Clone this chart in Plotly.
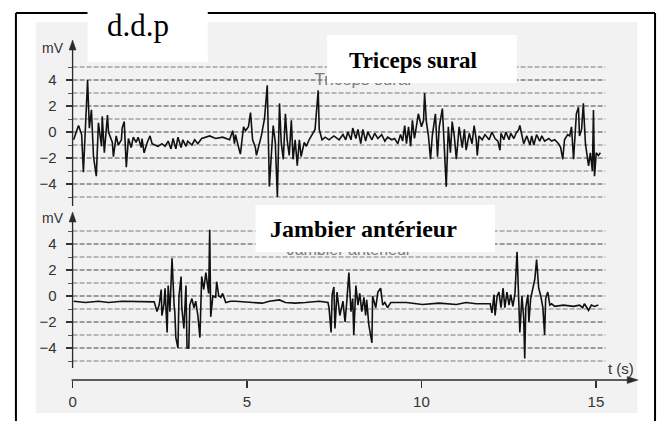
import plotly.graph_objects as go

# ---------------- data ----------------
# Triceps sural EMG trace: time (s), potential (mV)
tri_t = [0.03, 0.17, 0.26, 0.31, 0.43, 0.48, 0.54, 0.60, 0.68, 0.74, 0.83, 0.85, 0.91, 1.00, 1.03,
         1.14, 1.17, 1.25, 1.31, 1.40, 1.42, 1.48, 1.54, 1.60, 1.68, 1.74, 1.82, 1.88, 1.97, 1.99,
         2.05, 2.14, 2.22, 2.28, 2.36, 2.45, 2.56, 2.65, 2.74, 2.82, 2.88, 2.96, 3.02, 3.11, 3.16,
         3.25, 3.30, 3.42, 3.50, 3.59, 3.70, 3.93, 4.10, 4.30, 4.50, 4.59, 4.64, 4.67, 4.76, 4.81,
         4.90, 4.96, 5.04, 5.10, 5.16, 5.24, 5.27, 5.36, 5.41, 5.50, 5.58, 5.64, 5.70, 5.75, 5.81,
         5.87, 5.93, 5.98, 6.04, 6.10, 6.15, 6.21, 6.27, 6.32, 6.38, 6.44, 6.50, 6.55, 6.64, 6.70,
         6.78, 6.87, 6.95, 7.04, 7.07, 7.15, 7.24, 7.35, 7.49, 7.64, 7.75, 7.83, 7.89, 7.98, 8.03,
         8.12, 8.18, 8.26, 8.32, 8.40, 8.46, 8.58, 8.66, 8.75, 8.86, 8.95, 9.03, 9.15, 9.23, 9.32,
         9.40, 9.46, 9.52, 9.57, 9.63, 9.69, 9.74, 9.80, 9.86, 9.91, 10.00, 10.06, 10.09, 10.14, 10.20,
         10.26, 10.31, 10.40, 10.46, 10.51, 10.60, 10.66, 10.71, 10.77, 10.83, 10.88, 10.94, 11.00, 11.08, 11.17,
         11.23, 11.28, 11.37, 11.45, 11.51, 11.57, 11.60, 11.65, 11.74, 11.82, 11.94, 12.02, 12.11, 12.19, 12.25,
         12.28, 12.36, 12.42, 12.51, 12.56, 12.65, 12.71, 12.79, 12.82, 12.88, 12.93, 13.02, 13.11, 13.16, 13.22,
         13.30, 13.39, 13.45, 13.53, 13.65, 13.73, 13.82, 13.93, 13.99, 14.05, 14.10, 14.19, 14.25, 14.30, 14.36,
         14.42, 14.44, 14.50, 14.53, 14.59, 14.64, 14.70, 14.79, 14.84, 14.90, 14.93, 14.96, 15.01, 15.07, 15.13]
tri_mv = [-0.6, 0.5, -0.2, -3.1, 4.0, 0.3, 1.7, -1.9, -3.4, 0.7, -1.1, 1.2, -1.6, 1.3, 0.0,
          -0.8, -1.9, -0.3, -1.0, -0.6, 0.3, 0.8, -2.7, -0.5, -1.2, -0.4, -0.8, -0.4, -1.2, -0.5,
          -1.6, -0.8, -0.3, -0.9, -1.0, -1.1, -0.9, -1.1, -0.7, -1.3, -0.5, -1.3, -0.4, -1.2, -0.6,
          -1.1, -0.7, -1.0, -0.6, -0.9, -0.5, -0.3, -0.5, -0.4, -0.6, 0.1, -0.9, -0.2, -1.2, -1.7,
          0.4, 0.1, 0.4, 1.5, -0.6, -1.2, -1.8, -0.8, -0.3, 1.0, 3.6, -4.2, -1.1, 0.5, -0.8,
          -5.0, 2.2, -0.8, -2.1, 1.4, -0.6, -1.8, 0.9, -2.1, -0.6, -2.6, -0.6, -1.9, -0.8, -1.1,
          -0.6, -0.2, 0.2, 3.2, 0.2, -0.6, -0.4, -0.6, -0.3, -0.6, -0.2, -0.6, 0.0, -0.6, 0.3,
          -0.5, 0.2, -0.9, 0.2, -0.7, 0.0, -0.6, -0.1, -0.5, -0.2, -0.7, -0.4, -0.6, -0.5, -0.9,
          -0.2, -0.7, 0.5, -0.9, 0.4, -1.1, 0.9, -0.5, 0.7, 1.4, 0.4, 0.9, 3.0, 0.8, -0.3,
          -2.1, -0.3, 1.4, -1.9, 0.4, 1.8, -2.1, -4.2, 0.4, -1.6, 0.8, -0.3, -2.1, 0.4, -1.2,
          0.2, -1.4, -0.1, -0.9, 0.5, -0.6, -1.8, -0.3, -0.6, -0.2, -0.6, 0.0, -0.5, -0.7, -1.4,
          -0.1, -0.6, 0.0, -0.6, -0.1, -0.5, -0.1, 0.2, 0.5, -0.3, -0.9, -0.3, -1.0, -0.3, -1.0,
          -0.2, -0.7, -0.3, -0.7, -0.5, -0.7, -0.6, -0.9, -1.2, -2.1, -0.6, -0.2, -0.3, 0.4, -2.1,
          0.9, 1.4, 1.9, -0.3, 0.2, 2.2, -0.9, -2.6, -1.6, -3.0, 1.7, -3.4, -1.6, -1.8, -1.6]

# Jambier antérieur EMG trace: time (s), potential (mV)
jam_t = [0.03, 0.37, 0.74, 1.03, 1.42, 1.71, 2.08, 2.34, 2.42, 2.48, 2.54, 2.56, 2.62, 2.65, 2.71,
         2.74, 2.79, 2.85, 2.91, 2.93, 2.96, 3.02, 3.05, 3.11, 3.13, 3.19, 3.25, 3.28, 3.33, 3.36,
         3.42, 3.48, 3.53, 3.59, 3.65, 3.70, 3.76, 3.82, 3.90, 3.93, 3.96, 4.02, 4.10, 4.13, 4.19,
         4.25, 4.30, 4.39, 4.53, 4.67, 5.16, 5.44, 5.64, 5.93, 6.10, 6.38, 6.67, 7.07, 7.32,
         7.35, 7.41, 7.44, 7.49, 7.52, 7.58, 7.64, 7.66, 7.75, 7.81, 7.86, 7.92, 7.98, 8.03, 8.06,
         8.12, 8.18, 8.23, 8.29, 8.35, 8.40, 8.43, 8.49, 8.58, 8.60, 8.69, 8.75, 8.83, 8.89, 8.95,
         9.03, 9.12, 9.57, 10.03, 10.51, 11.00, 11.28, 11.57, 11.97, 12.02, 12.08, 12.11, 12.17, 12.22, 12.28,
         12.34, 12.39, 12.45, 12.51, 12.56, 12.62, 12.68, 12.74, 12.79, 12.82, 12.88, 12.93, 12.96, 12.99, 13.05,
         13.08, 13.13, 13.19, 13.25, 13.30, 13.36, 13.42, 13.48, 13.53, 13.56, 13.62, 13.68, 13.73, 13.82, 14.07,
         14.36, 14.53, 14.62, 14.67, 14.79, 14.87, 14.96, 15.07]
jam_mv = [-0.4, -0.5, -0.4, -0.5, -0.4, -0.4, -0.4, -0.45, -1.2, -0.7, 0.5, -1.5, -0.6, 0.6, -2.8,
          0.8, -1.2, 2.9, -0.7, -1.2, -3.2, -4.0, 0.0, 1.5, -0.9, -2.5, 0.8, -4.0, -4.0, -0.7,
          -0.2, -0.9, -0.4, -1.5, -3.2, 1.5, 0.5, 1.8, 0.2, 5.1, -1.6, 0.0, -0.1, 1.1, 0.0,
          -0.1, 0.2, -0.5, -0.4, -0.4, -0.5, -0.55, -0.4, -0.3, -0.5, -0.55, -0.5, -0.4, -0.5,
          -0.9, -2.8, 0.1, 0.7, -2.5, 0.3, -0.9, -1.5, -0.4, -2.0, -0.4, 1.8, -1.2, -0.2, -3.0,
          0.8, -0.7, 0.2, -1.2, -0.1, -1.5, -0.3, -2.2, -3.6, 0.0, -0.9, 0.3, 0.6, -0.7, -0.5,
          -0.9, -0.5, -0.5, -0.65, -0.55, -0.65, -0.5, -0.6, -0.6, -1.3, 0.1, -1.5, 0.0, 0.3, -0.9,
          0.6, -0.9, 0.3, -0.7, 0.1, -0.8, 0.2, 3.4, -1.2, -2.8, 0.0, -1.7, -4.8, -0.9, 0.1,
          -2.0, -0.2, 0.7, 1.3, 2.8, 0.6, 0.0, -0.9, -3.0, -0.2, 0.3, -0.7, -0.6, -0.8, -0.7,
          -0.8, -0.7, -0.9, -0.6, -1.1, -0.7, -0.8, -0.7]

grid_levels = [-5, -4, -3, -2, -1, 0, 1, 2, 3, 4, 5]
y_ticks = [-4, -2, 0, 2, 4]
y_minor = [-5, -3, -1, 1, 3, 5]
x_ticks = [0, 5, 10, 15]

title_main = "d.d.p"
title_top = "Triceps sural"
title_bottom = "Jambier antérieur"

# ---------------- layout helpers ----------------
W, H = 662, 421


def px(x):
    return x / W


def py(y):
    return 1 - y / H


X0, X1 = 69, 640            # pixel extent of the x axis domain
T_PER_PX = 1 / 35.1
x_range = [0, (X1 - X0) * T_PER_PX]
grid_end = (605 - X0) * T_PER_PX

fig = go.Figure()
fig.add_trace(go.Scatter(x=tri_t, y=tri_mv, mode="lines", xaxis="x", yaxis="y",
                         line=dict(color="#111111", width=1.6), hoverinfo="skip"))
fig.add_trace(go.Scatter(x=jam_t, y=jam_mv, mode="lines", xaxis="x", yaxis="y2",
                         line=dict(color="#111111", width=1.6), hoverinfo="skip"))

shapes = []
# scanned-paper background
shapes.append(dict(type="rect", xref="paper", yref="paper", x0=px(32), x1=px(637), y0=py(413), y1=py(22),
                   fillcolor="#f2f2f2", line=dict(width=0), layer="below"))
# dashed recorder grid
for yr in ["y", "y2"]:
    for v in grid_levels:
        even = v % 2 == 0
        shapes.append(dict(type="line", xref="x", yref=yr, x0=0, x1=grid_end, y0=v, y1=v,
                           line=dict(color="#444444" if even else "#7a7a7a", width=1.2,
                                     dash="5px,2px"), layer="below"))
axc = "#2a2a2a"
# y axis lines
shapes.append(dict(type="line", xref="paper", yref="paper", x0=px(69), x1=px(69), y0=py(206), y1=py(46),
                   line=dict(color=axc, width=1.3)))
shapes.append(dict(type="line", xref="paper", yref="paper", x0=px(69), x1=px(69), y0=py(368), y1=py(218),
                   line=dict(color=axc, width=1.3)))
# x axis line
shapes.append(dict(type="line", xref="paper", yref="paper", x0=px(68), x1=px(630), y0=py(380), y1=py(380),
                   line=dict(color=axc, width=1.3)))


def tri(tip, b1, b2):
    return dict(type="path", xref="paper", yref="paper",
                path=f"M {px(tip[0])},{py(tip[1])} L {px(b1[0])},{py(b1[1])} L {px(b2[0])},{py(b2[1])} Z",
                fillcolor=axc, line=dict(color=axc, width=0.5))


shapes.append(tri((69, 40), (65.5, 50), (72.5, 50)))
shapes.append(tri((69, 212), (65.5, 222), (72.5, 222)))
shapes.append(tri((638, 380), (627, 376.5), (627, 383.5)))

# black frame (open at the bottom)
fr = dict(color="black", width=2)
shapes.append(dict(type="line", xref="paper", yref="paper", x0=px(12), x1=px(655), y0=py(13), y1=py(13), line=fr))
shapes.append(dict(type="line", xref="paper", yref="paper", x0=px(12), x1=px(12), y0=py(13), y1=py(421), line=fr))
shapes.append(dict(type="line", xref="paper", yref="paper", x0=px(655), x1=px(655), y0=py(13), y1=py(421), line=fr))

# white label boxes pasted over the scan
for (a, b, c, d) in [(84, 0, 205, 62), (325, 35, 516, 83), (253, 205, 494, 252)]:
    shapes.append(dict(type="rect", xref="paper", yref="paper", x0=px(a), x1=px(c), y0=py(d), y1=py(b),
                       fillcolor="white", line=dict(width=0), layer="above"))

# faint original labels of the scan (partly hidden by the white boxes)
fig.add_trace(go.Scatter(x=[(361 - X0) * T_PER_PX], y=[(132 - 81) / 13], mode="text", text=[title_top],
                         xaxis="x", yaxis="y", textfont=dict(family="Liberation Sans, Arial", size=17, color="#7a7a7a"),
                         hoverinfo="skip", cliponaxis=False))
fig.add_trace(go.Scatter(x=[(347 - X0) * T_PER_PX], y=[(296 - 251) / 13], mode="text", text=[title_bottom],
                         xaxis="x", yaxis="y2", textfont=dict(family="Liberation Sans, Arial", size=16, color="#7a7a7a"),
                         hoverinfo="skip", cliponaxis=False))

ann = []
serif = "Liberation Serif, Times New Roman, serif"
sans = "Liberation Sans, Arial, sans-serif"


def label(text, x, y, family, size, color="black"):
    return dict(text=text, x=px(x), y=py(y), xref="paper", yref="paper", showarrow=False,
                xanchor="center", yanchor="middle", font=dict(family=family, size=size, color=color))


ann.append(label(title_main, 135, 26, serif, 31))
ann.append(label(f"<b>{title_top}</b>", 411, 60, serif, 23))
ann.append(label(f"<b>{title_bottom}</b>", 362, 229, serif, 24))
for yy in [48, 218]:
    ann.append(label("mV", 49, yy, sans, 14, "#333"))
ann.append(label("t (s)", 621, 368, sans, 15, "#333"))

yax_common = dict(showgrid=False, zeroline=False, showline=False, anchor="x",
                  tickmode="array", tickvals=y_ticks, ticks="outside", ticklen=6, tickwidth=1.2,
                  tickcolor="#333", ticklabelstandoff=6,
                  tickfont=dict(family=sans, size=15, color="#333"),
                  minor=dict(tickmode="array", tickvals=y_minor, ticks="outside", ticklen=4,
                             tickcolor="#555", tickwidth=1))

fig.update_layout(
    width=W, height=H, autosize=False,
    margin=dict(l=0, r=0, t=0, b=0, pad=0),
    paper_bgcolor="white", plot_bgcolor="rgba(0,0,0,0)",
    showlegend=False, hovermode=False,
    xaxis=dict(domain=[px(X0), px(X1)], range=x_range, anchor="y2", showgrid=False, zeroline=False,
               showline=False, tickmode="array", tickvals=x_ticks, ticks="outside", ticklen=7,
               tickwidth=1.2, tickcolor="#333", ticklabelstandoff=1,
               tickfont=dict(family=sans, size=15, color="#333")),
    yaxis=dict(domain=[py(210), py(40)], range=[(132 - 210) / 13, (132 - 40) / 13], **yax_common),
    yaxis2=dict(domain=[py(380), py(212)], range=[(296 - 380) / 13, (296 - 212) / 13], **yax_common),
    shapes=shapes, annotations=ann,
)

fig.write_html("out.html", config={"displayModeBar": False, "staticPlot": True},
               post_script="document.body.style.margin='0';document.body.style.overflow='hidden';")
